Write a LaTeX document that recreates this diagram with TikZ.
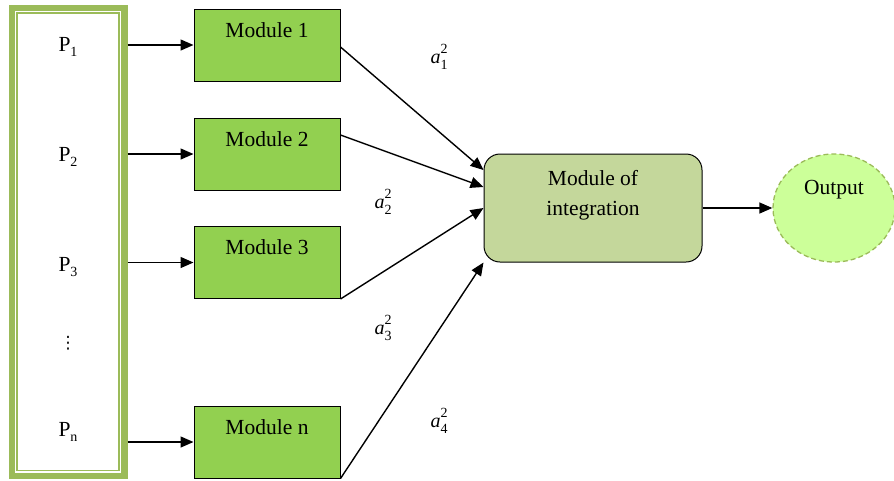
\documentclass[tikz,border=0pt]{standalone}
\usepackage{fontspec}
\setmainfont{Liberation Serif}
\newfontfamily\dvfont{DejaVu Sans}
\usetikzlibrary{arrows.meta,shapes.geometric}
\definecolor{framegreen}{HTML}{9BBB59}
\definecolor{modgreen}{HTML}{92D050}
\definecolor{intgreen}{HTML}{C4D79B}
\definecolor{outgreen}{HTML}{CCFF99}
\newcommand{\smallnum}[1]{{\fontsize{14}{14}\selectfont #1}}
\newcommand{\pl}[1]{P\raisebox{-0.25em}{\smallnum{#1}}}
\newcommand{\al}[1]{\textit{a}\makebox[0pt][l]{\raisebox{0.5em}{\smallnum{2}}}\raisebox{-0.3em}{\smallnum{#1}}}
\tikzset{
  every node/.style={font=\fontsize{21.5}{26}\selectfont},
  arr/.style={line width=1.4pt,-{Triangle[length=13pt,width=11pt]}},
  module/.style={draw=black,line width=1pt,fill=modgreen,minimum width=146pt,
    inner xsep=0pt,inner ysep=6pt,text height=22pt,text depth=38pt},
  intbox/.style={draw=black,line width=1pt,fill=intgreen,rounded corners=16pt,
    minimum width=218pt,minimum height=108pt},
  outnode/.style={ellipse,draw=framegreen,dashed,dash pattern=on 5pt off 3pt,line width=1.3pt,
    fill=outgreen,minimum width=122pt,minimum height=108pt,inner sep=0pt},
  alab/.style={font=\fontsize{20}{24}\selectfont}
}
\begin{document}
\begin{tikzpicture}[x=1pt,y=-1pt]
\useasboundingbox (0,0) rectangle (894,480);
% input frame
\node[draw=framegreen,line width=6.5pt,outer sep=3.25pt,inner sep=0pt,
  minimum width=112.5pt,minimum height=468pt] (frame) at (68,241.75) {};
\draw[framegreen,line width=1.5pt] (17,13) rectangle (119,470.5);
\node (p1) at (68,47) {\pl{1}};
\node (p2) at (68,157) {\pl{2}};
\node (p3) at (68,267) {\pl{3}};
\node[font=\dvfont\fontsize{17}{20}\selectfont] (pd) at (68,343) {⋮};
\node (pn) at (68,432) {\pl{n}};
% modules
\node[module] (m1) at (267,45) {Module 1};
\node[module] (m2) at (267,154) {Module 2};
\node[module] (m3) at (267,262.5) {Module 3};
\node[module] (mn) at (267,442) {Module n};
\draw[arr] (frame.east |- m1) -- (m1);
\draw[arr] (frame.east |- m2) -- (m2);
\draw[arr] (frame.east |- m3) -- (m3);
\draw[arr] (frame.east |- mn) -- (mn);
% integration
\node[intbox,label={[align=center,yshift=13pt,font=\fontsize{21.5}{30}\selectfont]center:Module of\\integration}] (int) at (593,208) {};
\node[outnode,label={[yshift=18pt]center:Output}] (out) at (834,208) {};
\draw[arr] (int) -- (out);
\draw[arr] ([yshift=-2pt]m1.east) -- ([yshift=38pt]int.west);
\draw[arr] ([yshift=19pt]m2.east) -- ([yshift=21pt]int.west);
\draw[arr] (m3.south east) -- (int.west);
\draw[arr] (mn.south east) -- (int.south west);
% weights
\node[alab] (a1) at (439,57) {\al{1}};
\node[alab] (a2) at (383,202) {\al{2}};
\node[alab] (a3) at (383,328) {\al{3}};
\node[alab] (a4) at (439,421) {\al{4}};
\end{tikzpicture}
\end{document}
